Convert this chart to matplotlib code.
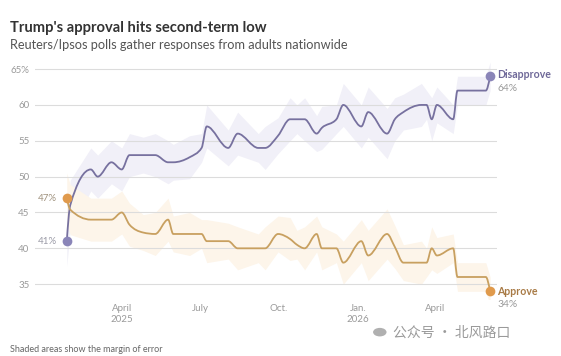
import numpy as np
import pandas as pd
import matplotlib
matplotlib.use("Agg")
import matplotlib.pyplot as plt
import matplotlib.dates as mdates
from matplotlib.path import Path
from matplotlib.patches import PathPatch

plt.rcParams['font.family'] = ['Lato', 'DejaVu Sans']

# poll dates (shared by both series)
poll_dates = ['2025-01-27', '2025-01-31', '2025-02-24', '2025-03-04', '2025-03-20',
              '2025-04-01', '2025-04-10', '2025-04-26', '2025-05-10', '2025-05-25',
              '2025-05-31', '2025-06-19', '2025-07-03', '2025-07-09', '2025-08-03',
              '2025-08-14', '2025-09-07', '2025-09-15', '2025-09-30', '2025-10-14',
              '2025-10-22', '2025-10-31', '2025-11-14', '2025-11-20', '2025-12-07',
              '2025-12-15', '2026-01-05', '2026-01-13', '2026-02-04', '2026-02-13',
              '2026-02-23', '2026-03-16', '2026-03-22', '2026-03-28', '2026-04-03',
              '2026-04-22', '2026-04-27', '2026-05-30', '2026-06-04']

disapprove = [41, 46, 51, 50, 52,
              51, 53, 53, 53, 52,
              52, 52.7, 54, 57, 54,
              56, 54, 54, 55.7, 58,
              58, 58, 56, 56.8, 58,
              60, 57, 59, 56, 58,
              59, 60, 60, 58, 60,
              58, 62, 62, 64]

approve = [47, 45.4, 44, 44, 44,
           45, 43.3, 42.2, 42, 44,
           42, 42, 42, 41, 41,
           40, 40, 40, 42, 41.3,
           40.5, 40, 42, 40, 40,
           38, 41, 39, 42, 40.2,
           38, 38, 38, 40, 39,
           40, 36, 36, 34]

# margin of error (points)
moe_dis = [3.5, 3.5, 3, 3, 3, 3, 3, 2.5, 3, 3, 2.5, 3, 2, 3, 2.5, 3, 2, 3, 2.5, 3,
           2, 3, 2.5, 3, 2, 3, 3, 3.5, 3.5, 3, 2.5, 3, 2, 3, 2.5, 2, 2, 2, 2]
moe_app = [3.5, 3.5, 3, 3, 3, 3, 3, 2.5, 3, 3, 2.5, 3, 2, 3, 2.5, 3, 2, 3, 2.5, 3,
           2, 3, 2.5, 3, 2, 3, 3, 3.5, 3.5, 3, 2.5, 3, 2, 3, 2.5, 2, 2, 2, 2]

tick_dates = ['2025-04-01', '2025-07-01', '2025-10-01', '2026-01-01', '2026-04-01']
tick_labels = ['April\n2025', 'July', 'Oct.', 'Jan.\n2026', 'April']
y_ticks = [35, 40, 45, 50, 55, 60, 65]
y_labels = ['35', '40', '45', '50', '55', '60', '65%']

c_dis_line = '#77719f'
c_dis_dot = '#8a85b8'
c_dis_band = '#f1f0f8'
c_app_line = '#c8a060'
c_app_dot = '#e09a4c'
c_app_band = '#fdf5ea'

x = mdates.date2num(pd.to_datetime(poll_dates))


def monotone_path(xs, ys):
    # monotone-x cubic bezier, like d3.curveMonotoneX
    xs = np.asarray(xs, float)
    ys = np.asarray(ys, float)
    n = len(xs)
    h = np.diff(xs)
    s = np.diff(ys) / h
    m = np.zeros(n)
    for i in range(1, n - 1):
        s0, s1 = s[i - 1], s[i]
        p = (s0 * h[i] + s1 * h[i - 1]) / (h[i - 1] + h[i])
        m[i] = (np.sign(s0) + np.sign(s1)) * min(abs(s0), abs(s1), 0.5 * abs(p))
    m[0] = (3 * s[0] - m[1]) / 2
    m[-1] = (3 * s[-1] - m[-2]) / 2
    verts = [(xs[0], ys[0])]
    codes = [Path.MOVETO]
    for i in range(n - 1):
        dx = h[i] / 3
        verts += [(xs[i] + dx, ys[i] + dx * m[i]),
                  (xs[i + 1] - dx, ys[i + 1] - dx * m[i + 1]),
                  (xs[i + 1], ys[i + 1])]
        codes += [Path.CURVE4] * 3
    return Path(verts, codes)


fig = plt.figure(figsize=(5.61, 3.56), dpi=100)
ax = fig.add_axes([0.0624, 0.1615, 0.8235, 0.6646])

dis = np.array(disapprove)
app = np.array(approve)
ax.fill_between(x, dis - np.array(moe_dis), dis + np.array(moe_dis),
                color=c_dis_band, lw=0, zorder=1)
ax.fill_between(x, app - np.array(moe_app), app + np.array(moe_app),
                color=c_app_band, lw=0, zorder=1)

for vals, col in [(disapprove, c_dis_line), (approve, c_app_line)]:
    ax.add_patch(PathPatch(monotone_path(x, vals), fill=False, edgecolor=col,
                           lw=1.3, zorder=3, clip_on=False, capstyle='round',
                           joinstyle='round'))

ax.plot([x[0], x[-1]], [disapprove[0], disapprove[-1]], 'o', color=c_dis_dot,
        ms=7, mec='none', zorder=4, clip_on=False)
ax.plot([x[0], x[-1]], [approve[0], approve[-1]], 'o', color=c_app_dot,
        ms=7, mec='none', zorder=4, clip_on=False)

ax.set_xlim(mdates.date2num(pd.Timestamp('2024-12-21')),
            mdates.date2num(pd.Timestamp('2026-06-12')))
ax.set_ylim(33, 66)
ax.set_yticks(y_ticks)
ax.set_yticklabels(y_labels)
ax.set_xticks(mdates.date2num(pd.to_datetime(tick_dates)))
ax.set_xticklabels(tick_labels, linespacing=1.3)
ax.tick_params(axis='both', length=0, labelsize=7, labelcolor='#9a9a9a')
ax.tick_params(axis='y', pad=4)
ax.tick_params(axis='x', pad=4)
ax.grid(axis='y', color='#dcdcdc', lw=0.8, zorder=2)
for sp in ax.spines.values():
    sp.set_visible(False)

# start labels
ax.annotate(f'{approve[0]:.0f}%', (x[0], approve[0]), xytext=(-7, 0),
            textcoords='offset points', ha='right', va='center',
            fontsize=7, color='#a0927f')
ax.annotate(f'{disapprove[0]:.0f}%', (x[0], disapprove[0]), xytext=(-7, 0),
            textcoords='offset points', ha='right', va='center',
            fontsize=7, color='#9a9aa6')

# end labels
ax.annotate('Disapprove', (x[-1], disapprove[-1]), xytext=(5, 1),
            textcoords='offset points', ha='left', va='center',
            fontsize=7.6, fontweight='bold', color='#6e6898', annotation_clip=False)
ax.annotate(f'{disapprove[-1]:.0f}%', (x[-1], disapprove[-1]), xytext=(5, -8.5),
            textcoords='offset points', ha='left', va='center',
            fontsize=7.4, color='#9a9a9a', annotation_clip=False)
ax.annotate('Approve', (x[-1], approve[-1]), xytext=(5, 0),
            textcoords='offset points', ha='left', va='center',
            fontsize=7.6, fontweight='bold', color='#a87a45', annotation_clip=False)
ax.annotate(f'{approve[-1]:.0f}%', (x[-1], approve[-1]), xytext=(5, -9.5),
            textcoords='offset points', ha='left', va='center',
            fontsize=7.4, color='#9a9a9a', annotation_clip=False)

fig.text(0.018, 0.910, "Trump's approval hits second-term low", fontsize=10.6,
         fontweight='bold', color='#333333', va='baseline')
fig.text(0.018, 0.862, 'Reuters/Ipsos polls gather responses from adults nationwide',
         fontsize=9.2, color='#555555', va='baseline')
fig.text(0.018, 0.012, 'Shaded areas show the margin of error', fontsize=6.5,
         color='#666666', va='baseline')

# watermark
fig.text(0.70, 0.065, '公众号 · 北风路口', fontsize=10, color='#9a9a9a',
         va='center', family=['Noto Sans CJK SC', 'DejaVu Sans'])
fig.patches.append(plt.Circle((0.677, 0.067), 0.012, transform=fig.transFigure,
                              color='#b0b0b0', lw=0))

fig.savefig('out.png', dpi=100)
